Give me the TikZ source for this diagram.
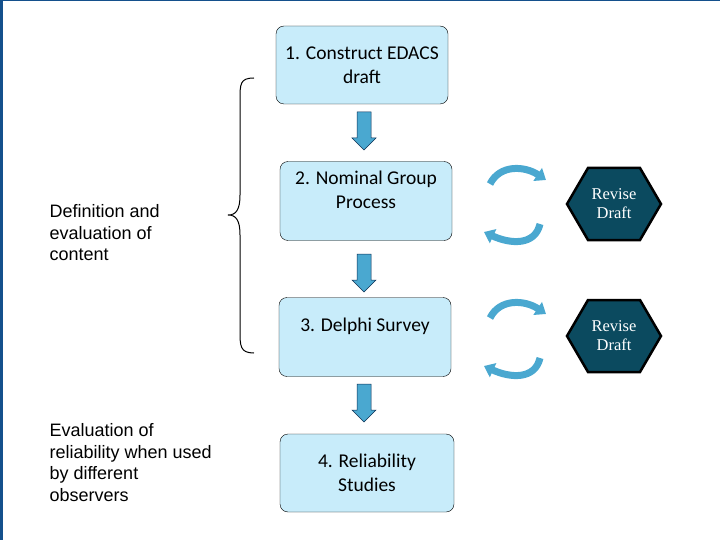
\documentclass[tikz,border=0pt]{standalone}
\usepackage{fontspec}
\setmainfont{Carlito}
\newfontfamily\arial{Liberation Sans}
\newfontfamily\serifr{Liberation Serif}
\usetikzlibrary{arrows.meta}
\definecolor{boxfill}{RGB}{200,236,250}
\definecolor{arrfill}{RGB}{74,168,208}
\definecolor{hexfill}{RGB}{11,74,95}
\definecolor{edge}{RGB}{20,80,140}
\tikzset{
  stage/.style={draw, rounded corners=8pt, fill=boxfill, minimum width=172pt, minimum height=78pt, align=center, font=\fontsize{19.5}{24}\selectfont},
  hexa/.style={draw, line width=2.5pt, fill=hexfill, line join=miter},
  hextext/.style={text=white, align=center, font=\serifr\fontsize{16.5}{19}\selectfont},
  side/.style={anchor=north west, align=left, font=\arial\fontsize{18}{21.5}\selectfont},
  down/.style={draw=edge!60!black, fill=arrfill, line width=0.5pt},
  turn/.style={draw=arrfill!80!black, line width=7pt, -{Triangle[width=15pt,length=10pt]}, arrfill}
}
\newcommand{\blockdown}[2]{% x, top y
  \draw[down] (#1-7,#2) -- (#1+7,#2) -- (#1+7,#2+26) -- (#1+12,#2+26) -- (#1,#2+38) -- (#1-12,#2+26) -- (#1-7,#2+26) -- cycle;}
\newcommand{\revise}[3]{% name, x, y
  \coordinate (#1) at (#2,#3);
  \draw[hexa] (#2-47,#3) -- (#2-26,#3-36) -- (#2+26,#3-36) -- (#2+47,#3) -- (#2+26,#3+36) -- (#2-26,#3+36) -- cycle;
  \node[hextext] at (#1) {Revise\\Draft};}
\begin{document}
\begin{tikzpicture}[x=1pt,y=-1pt]
\useasboundingbox (0,0) rectangle (720,540);
\fill[edge] (0,0) rectangle (2.5,540);
\fill[edge] (0,0) rectangle (720,1);
% boxes
\node[stage] (s1) at (362,65) {1. Construct EDACS\\draft};
\node[stage, minimum height=79pt] (s2) at (366,201) {};
\node at (366,190) [font=\fontsize{19.5}{24}\selectfont, align=center] (t2) {2. Nominal Group\\Process};
\node[stage, minimum height=79pt] (s3) at (365,337) {};
\node at (365,326) [font=\fontsize{19.5}{24}\selectfont] (t3) {3. Delphi Survey};
\node[stage, minimum width=174pt] (s4) at (367,473) {4. Reliability\\Studies};
% down arrows
\blockdown{364}{112}
\blockdown{364}{254}
\blockdown{364}{384}
% brace
\draw[line width=1pt] (254,78) .. controls (240,78) and (240,84) .. (240,100)
  -- (240,195) .. controls (240,210) and (236,215) .. (228,215)
  .. controls (236,215) and (240,220) .. (240,235)
  -- (240,330) .. controls (240,346) and (240,353) .. (254,353);
% side texts
\node[side] (l1) at (46,201) {Definition and\\evaluation of\\content};
\node[side] (l2) at (46,420) {Evaluation of\\reliability when used\\by different\\observers};
% revise
\revise{h1}{614}{204}
\revise{h2}{614}{336}
% turn arrows
\foreach \y in {184,318} {
  \draw[turn] (490,\y) .. controls (500,\y-20) and (525,\y-18) .. (546,\y-4);
  \draw[turn] (540,\y+40) .. controls (535,\y+62) and (510,\y+60) .. (484,\y+48);
}
\end{tikzpicture}
\end{document}
